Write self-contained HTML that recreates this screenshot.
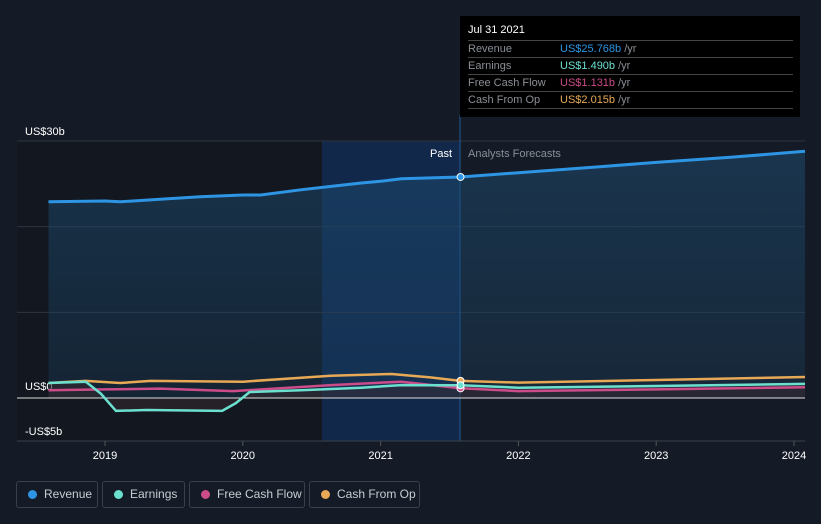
<!DOCTYPE html>
<html><head><meta charset="utf-8"><style>
body{margin:0;background:#151b26;width:821px;height:524px;overflow:hidden;font-family:"Liberation Sans",sans-serif;}
svg{position:absolute;left:0;top:0}
.leg{position:absolute;top:481px;height:27px;border:1px solid #3a404b;border-radius:3px;box-sizing:border-box;color:#c8ccd2;font-size:12px;line-height:25px;padding-left:27px;white-space:nowrap}
.leg i{position:absolute;left:11px;top:8px;width:9px;height:9px;border-radius:50%}
.tip{position:absolute;left:460px;top:16px;width:340px;height:101px;background:#000;font-size:11px;color:#8a8f96}
.tip .r{position:absolute;left:8px;width:325px;border-top:1px solid #444;height:16px;line-height:16px}
</style></head><body>
<svg width="821" height="524" id="chart"></svg>
<div class="tip">
<div style="position:absolute;left:8px;top:8px;color:#fff;font-size:11px">Jul 31 2021</div>
<div class="r" style="top:24px">Revenue<span style="position:absolute;left:92px;color:#2d95e3">US$25.768b <span style="color:#8a8f96">/yr</span></span></div>
<div class="r" style="top:41px">Earnings<span style="position:absolute;left:92px;color:#6ce0cf">US$1.490b <span style="color:#8a8f96">/yr</span></span></div>
<div class="r" style="top:58px">Free Cash Flow<span style="position:absolute;left:92px;color:#cc4c8a">US$1.131b <span style="color:#8a8f96">/yr</span></span></div>
<div class="r" style="top:75px;border-bottom:1px solid #444">Cash From Op<span style="position:absolute;left:92px;color:#e7a955">US$2.015b <span style="color:#8a8f96">/yr</span></span></div>
</div>
<div class="leg" style="left:16px;width:82px"><i style="background:#2d95e3"></i>Revenue</div>
<div class="leg" style="left:102px;width:83px"><i style="background:#6ce0cf"></i>Earnings</div>
<div class="leg" style="left:189px;width:116px"><i style="background:#cc4c8a"></i>Free Cash Flow</div>
<div class="leg" style="left:309px;width:111px"><i style="background:#e7a955"></i>Cash From Op</div>
<script>
const years=[2019,2020,2021,2022,2023,2024];
const yTicks=[30,0,-5];
const yTickLabels=["US$30b","US$0","-US$5b"];
const revX=[2018.59,2019,2019.11,2019.4,2019.69,2020,2020.13,2020.42,2020.64,2020.86,2021,2021.15,2021.58,2022,2022.59,2023,2023.54,2024.08];
const revY=[22.9,23.0,22.9,23.2,23.5,23.7,23.7,24.3,24.7,25.1,25.3,25.6,25.8,26.3,27.0,27.5,28.1,28.8];
const earnX=[2018.59,2018.86,2018.97,2019.08,2019.3,2019.85,2019.95,2020.05,2020.42,2020.86,2021.15,2021.58,2022,2023,2024.08];
const earnY=[1.75,1.9,0.5,-1.5,-1.4,-1.5,-0.6,0.7,0.9,1.2,1.5,1.49,1.2,1.4,1.65];
const fcfX=[2018.59,2019,2019.4,2019.93,2020.64,2021.15,2021.58,2022,2023,2024.08];
const fcfY=[0.9,1.0,1.1,0.8,1.5,1.9,1.13,0.8,1.0,1.25];
const cfoX=[2018.59,2018.86,2019.11,2019.33,2020,2020.64,2021.08,2021.36,2021.58,2022,2023,2024.08];
const cfoY=[1.75,2.0,1.75,2.0,1.9,2.6,2.8,2.4,2.0,1.8,2.1,2.45];
const X=t=>105+(t-2019)*137.8, Y=v=>398-v*8.567;
const s=document.getElementById('chart');const NS='http://www.w3.org/2000/svg';
function el(tag,a,txt){const e=document.createElementNS(NS,tag);for(const k in a)e.setAttribute(k,a[k]);if(txt!=null)e.textContent=txt;s.appendChild(e);return e;}
const defs=el('defs',{});defs.innerHTML='<linearGradient id="g" x1="0" y1="0" x2="0" y2="1"><stop offset="0" stop-color="#1d4a6e" stop-opacity="0.55"/><stop offset="1" stop-color="#1d4a6e" stop-opacity="0.25"/></linearGradient>';
let r=el('rect',{x:17,y:141,width:305,height:300,fill:'#121720'});
r=el('rect',{x:322,y:141,width:138,height:300,fill:'#11284a'});
[30,20,10].forEach(v=>{const l=el('line',{x1:17,x2:805,y1:Y(v),y2:Y(v),stroke:'#2e3440','stroke-width':1});});
el('line',{x1:460,x2:460,y1:115,y2:441,stroke:'#1e5a9a','stroke-width':1});
yTicks.forEach((v,i)=>{const t=el('text',{x:25,y:Y(v)-6,fill:'#fff','font-size':11},yTickLabels[i]);if(v===0)t.setAttribute('y',Y(v)-8);});
function path(xs,ys){return xs.map((t,i)=>(i?'L':'M')+X(t).toFixed(1)+' '+Y(ys[i]).toFixed(1)).join(' ');}
let a=el('path',{d:path(revX,revY)+` L${X(revX[revX.length-1])} ${Y(0)} L${X(revX[0])} ${Y(0)} Z`,fill:'url(#g)'});
a=el('path',{d:path(earnX,earnY)+` L${X(earnX[earnX.length-1])} ${Y(0)} L${X(earnX[0])} ${Y(0)} Z`,fill:'#3a2a30',opacity:0.5});
let z=el('line',{x1:17,x2:805,y1:Y(0),y2:Y(0),stroke:'#ddd','stroke-width':1});
el('line',{x1:17,x2:805,y1:441,y2:441,stroke:'#3a404b'});
years.forEach(y=>{el('line',{x1:X(y),x2:X(y),y1:441,y2:446,stroke:'#555'});const t=el('text',{x:X(y),y:459,fill:'#fff','font-size':11,'text-anchor':'middle'},y);});
const series=[['cash-from-op',cfoX,cfoY,'#e7a955'],['free-cash-flow',fcfX,fcfY,'#cc4c8a'],['earnings',earnX,earnY,'#6ce0cf'],['revenue',revX,revY,'#2d95e3']];
series.forEach(([n,xs,ys,c])=>{const p=el('path',{d:path(xs,ys),fill:'none',stroke:c,'stroke-width':n==='revenue'?3:2.5,'stroke-linejoin':'round'});
const i=xs.indexOf(2021.58);const d=el('circle',{cx:X(xs[i]),cy:Y(ys[i]),r:3.5,fill:c,stroke:'#fff','stroke-width':1});});
let t=el('text',{x:452,y:157,fill:'#fff','font-size':11,'text-anchor':'end'},'Past');
t=el('text',{x:468,y:157,fill:'#8a8f96','font-size':11},'Analysts Forecasts');
</script>
</body></html>
